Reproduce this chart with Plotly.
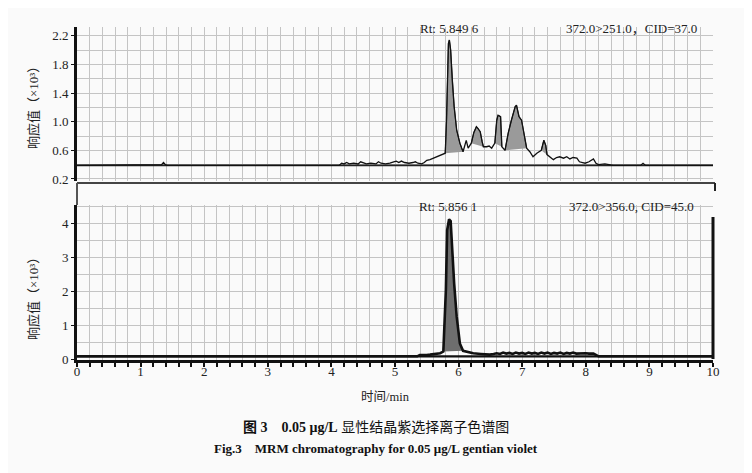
import plotly.graph_objects as go
import numpy as np

# ---------------- data ----------------
# upper panel: 372.0>251.0, CID=37.0  (response x10^3)
top_time = [0.00, 1.30, 1.33, 1.36, 1.39, 1.42, 4.12, 4.16, 4.20, 4.24, 4.28, 4.35, 4.42, 4.46,
            4.50, 4.55, 4.62, 4.70, 4.74, 4.78, 4.85, 4.92, 4.98, 5.02, 5.06, 5.10, 5.15, 5.22,
            5.28, 5.32, 5.36, 5.42, 5.46, 5.50, 5.55, 5.60, 5.65, 5.70, 5.75, 5.79, 5.81, 5.84,
            5.855, 5.875, 5.90, 5.93, 5.97, 6.02, 6.07, 6.10, 6.12, 6.15, 6.20, 6.24, 6.28, 6.31,
            6.34, 6.37, 6.39, 6.44, 6.48, 6.52, 6.57, 6.60, 6.62, 6.66, 6.68, 6.73, 6.78, 6.83,
            6.89, 6.91, 6.95, 6.99, 7.03, 7.07, 7.12, 7.17, 7.23, 7.30, 7.34, 7.37, 7.39, 7.44,
            7.49, 7.54, 7.59, 7.65, 7.70, 7.75, 7.80, 7.86, 7.90, 7.95, 7.99, 8.05, 8.12, 8.16,
            8.20, 8.30, 8.43, 8.86, 8.90, 8.94, 10.00]
top_resp = [0.39, 0.39, 0.40, 0.43, 0.40, 0.39, 0.39, 0.42, 0.41, 0.43, 0.41, 0.42, 0.41, 0.44,
            0.43, 0.41, 0.42, 0.41, 0.44, 0.42, 0.41, 0.42, 0.44, 0.45, 0.43, 0.45, 0.43, 0.42,
            0.43, 0.44, 0.42, 0.41, 0.43, 0.46, 0.47, 0.49, 0.51, 0.52, 0.55, 0.56, 1.02, 2.09,
            2.14, 2.00, 1.58, 1.21, 0.88, 0.70, 0.58, 0.66, 0.74, 0.63, 0.70, 0.85, 0.93, 0.90,
            0.86, 0.72, 0.65, 0.65, 0.66, 0.63, 0.70, 1.02, 1.09, 1.07, 0.65, 0.60, 0.84, 1.02,
            1.21, 1.23, 1.07, 1.02, 0.84, 0.63, 0.58, 0.51, 0.56, 0.60, 0.74, 0.67, 0.54, 0.50,
            0.47, 0.50, 0.51, 0.49, 0.51, 0.48, 0.50, 0.49, 0.44, 0.43, 0.42, 0.44, 0.48, 0.42,
            0.40, 0.41, 0.39, 0.39, 0.42, 0.39, 0.39]
top_baseline = 0.39
top_peak_windows = [(5.79, 6.07), (6.20, 6.39), (6.57, 6.68), (6.73, 7.07), (7.30, 7.39)]

# lower panel: 372.0>356.0, CID=45.0  (response x10^3)
bot_time = [0.00, 5.35, 5.39, 5.45, 5.50, 5.55, 5.62, 5.71, 5.76, 5.80, 5.82, 5.85, 5.875, 5.90,
            5.93, 5.97, 6.02, 6.07, 6.15, 6.23, 6.35, 6.49, 6.55, 6.60,
            6.65, 6.70, 6.75, 6.80, 6.85, 6.90, 6.95, 7.00, 7.05, 7.10, 7.15, 7.20, 7.25, 7.30,
            7.35, 7.40, 7.45, 7.50, 7.55, 7.60, 7.65, 7.70, 7.75, 7.80, 7.85, 7.90, 7.95, 8.00,
            8.05, 8.10, 8.12, 8.18, 8.20, 10.00]
bot_resp = [0.08, 0.08, 0.12, 0.11, 0.12, 0.13, 0.14, 0.17, 0.22, 2.04, 3.80, 4.12, 4.07, 3.02,
            2.23, 1.25, 0.46, 0.24, 0.20, 0.17, 0.15, 0.13, 0.15, 0.17,
            0.15, 0.19, 0.16, 0.18, 0.15, 0.19, 0.16, 0.18, 0.15, 0.19, 0.16, 0.18, 0.15, 0.19,
            0.16, 0.19, 0.15, 0.18, 0.16, 0.19, 0.15, 0.18, 0.16, 0.19, 0.16, 0.17, 0.16, 0.17,
            0.16, 0.17, 0.16, 0.10, 0.08, 0.08]
bot_baseline = 0.08
bot_peak_windows = [(5.76, 6.07)]

x_tick_labels = [str(i) for i in range(0, 11)]
top_y_ticks = [0.2, 0.6, 1.0, 1.4, 1.8, 2.2]
bot_y_ticks = [0, 1, 2, 3, 4]

top_label_rt = "Rt: 5.849 6"
top_label_mrm = "372.0>251.0，CID=37.0"
bot_label_rt = "Rt: 5.856 1"
bot_label_mrm = "372.0>356.0, CID=45.0"
y_title = "响应值（×10³）"
x_title = "时间/min"
caption_cn = "<b>图 3　0.05 μg/L</b> 显性结晶紫选择离子色谱图"
caption_en = "<b>Fig.3　MRM chromatography for 0.05 μg/L gentian violet</b>"

# ---------------- layout constants ----------------
# the page body adds an 8px offset; plot area on screen: x 77..713, y 27..360
OFF = 8
W, H = 744, 465
ML, MT = 77 - OFF, 27 - OFF
PW, PH = 636, 333
MR = W - ML - PW
MB = H - MT - PH
BG = "#fafafa"
GRID = "#c4c4c4"
SERIF = "Liberation Serif, Noto Sans CJK SC"


def px(xp):  # screen pixel -> paper x
    return (xp - 77) / PW


def py(yp):  # screen pixel -> paper y
    return (360 - yp) / PH


top_dom = [py(181), 1.0]
bot_dom = [0.0, py(205)]

fig = go.Figure()

tt = np.array(top_time)
tr = np.array(top_resp)
bt = np.array(bot_time)
br = np.array(bot_resp)

# upper panel traces
fig.add_trace(go.Scatter(x=[0, 10], y=[top_baseline, top_baseline], mode="lines",
                         line=dict(color="#222", width=1.6), xaxis="x", yaxis="y",
                         hoverinfo="skip", showlegend=False))
for a, b in top_peak_windows:
    m = (tt >= a) & (tt <= b)
    fig.add_trace(go.Scatter(x=tt[m], y=tr[m], mode="lines", fill="toself",
                             fillcolor="#9a9a9a", line=dict(color="#333", width=1),
                             xaxis="x", yaxis="y", hoverinfo="skip", showlegend=False))
fig.add_trace(go.Scatter(x=tt, y=tr, mode="lines", line=dict(color="#111", width=1.3),
                         xaxis="x", yaxis="y", showlegend=False))

# lower panel traces
fig.add_trace(go.Scatter(x=[0, 10], y=[bot_baseline, bot_baseline], mode="lines",
                         line=dict(color="#111", width=2.2), xaxis="x2", yaxis="y2",
                         hoverinfo="skip", showlegend=False))
for a, b in bot_peak_windows:
    m = (bt >= a) & (bt <= b)
    fig.add_trace(go.Scatter(x=bt[m], y=br[m], mode="lines", fill="toself",
                             fillcolor="#6e6e6e", line=dict(color="#222", width=1),
                             xaxis="x2", yaxis="y2", hoverinfo="skip", showlegend=False))
fig.add_trace(go.Scatter(x=bt, y=br, mode="lines", line=dict(color="#111", width=2.6),
                         xaxis="x2", yaxis="y2", showlegend=False))

tickfont = dict(family=SERIF, size=13, color="#222")

fig.update_layout(
    width=W, height=H,
    margin=dict(l=ML, r=MR, t=MT, b=MB),
    paper_bgcolor=BG, plot_bgcolor=BG,
    showlegend=False,
    xaxis=dict(domain=[0, 1], anchor="y", range=[0, 10], tick0=0, dtick=0.2,
               showticklabels=False, ticks="", showgrid=True, gridcolor=GRID, gridwidth=1.4,
               zeroline=False, showline=False),
    yaxis=dict(domain=top_dom, anchor="x", range=[0.172, 2.321],
               tickvals=top_y_ticks, ticktext=[f"{v:.1f}" for v in top_y_ticks],
               tickfont=tickfont, ticks="outside", ticklen=3, tickcolor="#111",
               showgrid=True, gridcolor=GRID, gridwidth=1.4,
               minor=dict(dtick=0.2, tick0=0.2, showgrid=True, gridcolor=GRID, gridwidth=1.4),
               zeroline=False, showline=True, linecolor="#111", linewidth=3),
    xaxis2=dict(domain=[0, 1], anchor="y2", range=[0, 10],
                tickvals=list(range(0, 11)), ticktext=x_tick_labels, tickfont=tickfont,
                ticks="outside", ticklen=4, tickcolor="#111", tickwidth=1.5,
                ticklabelstandoff=-7,
                showgrid=True, gridcolor=GRID, gridwidth=1.4,
                minor=dict(dtick=0.2, tick0=0, showgrid=True, gridcolor=GRID, gridwidth=1.4,
                           ticks="outside", ticklen=4, tickcolor="#111", tickwidth=1.5),
                zeroline=False, showline=True, linecolor="#111", linewidth=3),
    yaxis2=dict(domain=bot_dom, anchor="x2", range=[-0.0295, 4.543],
                tickvals=bot_y_ticks, ticktext=[str(v) for v in bot_y_ticks],
                tickfont=tickfont, ticks="outside", ticklen=3, tickcolor="#111",
                showgrid=True, gridcolor=GRID, gridwidth=1.4,
                minor=dict(dtick=0.5, tick0=0, showgrid=True, gridcolor=GRID, gridwidth=1.4),
                zeroline=False, showline=True, linecolor="#111", linewidth=3),
)

shapes = [
    # frame between panels
    dict(type="line", xref="paper", yref="paper", x0=px(77), x1=px(715), y0=py(183), y1=py(183),
         line=dict(color="#444", width=2)),
    dict(type="line", xref="paper", yref="paper", x0=px(77), x1=px(77), y0=py(183), y1=py(205),
         line=dict(color="#555", width=2)),
    dict(type="line", xref="paper", yref="paper", x0=px(715), x1=px(715), y0=py(183), y1=py(191),
         line=dict(color="#222", width=2)),
    # right axis of lower panel
    dict(type="line", xref="paper", yref="paper", x0=px(713), x1=px(713), y0=py(217), y1=py(359),
         line=dict(color="#111", width=3)),
]
# gaps in the grid behind the header labels
for (x0, x1, y0, y1) in [(412, 502, 20, 38), (560, 716, 20, 38),
                         (412, 502, 199, 212), (560, 716, 199, 216)]:
    shapes.append(dict(type="rect", xref="paper", yref="paper", layer="between",
                       x0=px(x0), x1=px(x1), y0=py(y1), y1=py(y0),
                       fillcolor=BG, line=dict(width=0)))
fig.update_layout(shapes=shapes)

lab_font = dict(family=SERIF, size=13, color="#222")
ann = [
    dict(text=top_label_rt, x=px(449), y=py(28)),
    dict(text=top_label_mrm, x=px(631), y=py(28)),
    dict(text=bot_label_rt, x=px(448), y=py(206)),
    dict(text=bot_label_mrm, x=px(631), y=py(206)),
]
for a in ann:
    fig.add_annotation(xref="paper", yref="paper", showarrow=False, font=lab_font,
                       xanchor="center", yanchor="middle", **a)

common = dict(xref="paper", yref="paper", showarrow=False, xanchor="center", yanchor="middle")
fig.add_annotation(x=px(33), y=py(105), text=y_title, textangle=-90,
                   font=dict(family=SERIF, size=13, color="#222"), **common)
fig.add_annotation(x=px(33), y=py(296), text=y_title, textangle=-90,
                   font=dict(family=SERIF, size=13, color="#222"), **common)
fig.add_annotation(x=px(385), y=py(397), text=x_title,
                   font=dict(family=SERIF, size=12.5, color="#222"), **common)
fig.add_annotation(x=px(376), y=py(427), text=caption_cn,
                   font=dict(family=SERIF, size=14, color="#111"), **common)
fig.add_annotation(x=px(376), y=py(448), text=caption_en,
                   font=dict(family=SERIF, size=13, color="#111"), **common)

fig.write_html("out.html")
